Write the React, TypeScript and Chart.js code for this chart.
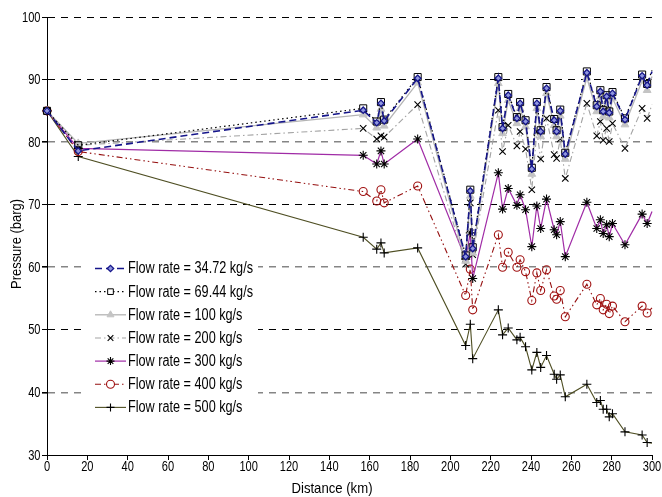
import React, { useEffect, useRef } from "react";
import { Chart, registerables } from "chart.js";

Chart.register(...registerables);

// ---- data ----
const distanceKm = [
  0, 15.5, 156.8, 163.5, 165.6, 167.2, 183.8, 207.6, 209.9, 211.1, 223.8, 225.9, 228.7, 233, 234.6,
  237.3, 240.4, 242.9, 244.8, 247.7, 251.5, 252.7, 254.5, 257.0, 267.7, 272.6, 274.4, 275.8, 277.5,
  278.8, 280.4, 286.6, 295.1, 297.6, 300,
];
const flow3472 = [
  85, 78.6, 85.1, 83.1, 86.2, 83.4, 90.2, 61.7, 72.2, 63.0, 90.2, 82.2, 87.5, 83.8, 86.2, 83.3, 75.7,
  86.2, 81.7, 88.6, 83.5, 81.7, 85.0, 78.1, 91.1, 85.7, 88.1, 84.9, 87.3, 84.7, 87.8, 83.6, 90.6, 89.1, 91.3,
];
const flow6944 = [
  85, 79.5, 85.4, 83.3, 86.4, 83.6, 90.4, 61.9, 72.4, 63.2, 90.4, 82.4, 87.7, 84.0, 86.4, 83.5, 75.9,
  86.4, 81.9, 88.8, 83.7, 81.9, 85.2, 78.3, 91.3, 85.9, 88.3, 85.1, 87.5, 84.9, 88.0, 83.8, 90.8, 89.3, 91.5,
];
const flow100 = [
  85, 79.8, 84.4, 82.3, 85.3, 82.6, 89.5, 61.0, 71.4, 62.3, 89.4, 81.4, 86.7, 83.0, 85.4, 82.5, 74.9,
  85.4, 80.9, 87.8, 82.7, 80.9, 84.2, 77.3, 90.3, 84.9, 87.3, 84.1, 86.5, 83.9, 87.0, 82.8, 89.8, 88.3, 90.5,
];
const flow200 = [
  85, 79.5, 82.2, 80.5, 81.0, 80.8, 86.0, 60.5, 70.3, 62.0, 85.1, 78.5, 82.7, 79.4, 81.7, 78.9, 72.4,
  81.7, 77.3, 83.8, 78.0, 77.4, 80.5, 74.2, 86.2, 81.0, 83.3, 80.3, 82.2, 80.1, 83.0, 79.0, 85.4, 83.8, 86.0,
];
const flow300 = [
  85, 79.0, 77.9, 76.5, 78.6, 76.5, 80.5, 61.3, 65.5, 58.2, 75.1, 69.3, 72.6, 69.9, 71.6, 69.2, 63.3,
  69.8, 66.2, 70.9, 66.0, 65.2, 67.3, 61.7, 70.4, 66.2, 67.6, 65.4, 66.8, 64.9, 67.0, 63.6, 68.5, 67.0, 68.9,
];
const flow400 = [
  85, 78.5, 72.1, 70.6, 72.4, 70.3, 73.0, 55.5, 59.7, 53.2, 65.2, 60.0, 62.4, 60.0, 61.2, 59.3, 54.7,
  59.1, 56.3, 59.6, 55.4, 54.9, 56.3, 52.1, 57.3, 54.0, 55.0, 53.2, 54.1, 52.6, 53.8, 51.3, 53.8, 52.7, 53.5,
];
const flow500 = [
  85, 77.7, 64.8, 62.9, 63.9, 62.3, 63.1, 47.5, 50.9, 45.4, 53.2, 49.2, 50.3, 48.4, 48.8, 47.3, 43.6,
  46.4, 44.0, 45.9, 42.9, 42.1, 42.8, 39.3, 41.3, 38.4, 38.7, 37.3, 37.3, 36.1, 36.6, 33.7, 33.2, 32.0, 31.9,
];
const seriesLabels = [
  "Flow rate = 34.72 kg/s",
  "Flow rate = 69.44 kg/s",
  "Flow rate = 100 kg/s",
  "Flow rate = 200 kg/s",
  "Flow rate = 300 kg/s",
  "Flow rate = 400 kg/s",
  "Flow rate = 500 kg/s",
];
const xAxisTitle = "Distance (km)";
const yAxisTitle = "Pressure (barg)";
const xMin = 0, xMax = 300, xStep = 20;
const yMin = 30, yMax = 100, yStep = 10;
const grayGridValues = [80, 60, 40];

const FONT = '"Liberation Sans", Arial, sans-serif';

function drawMarker(ctx: CanvasRenderingContext2D, style: string, x: number, y: number, r: number, fill: string, stroke: string, lw: number) {
  ctx.save();
  ctx.setLineDash([]);
  ctx.lineWidth = lw;
  ctx.strokeStyle = stroke;
  ctx.fillStyle = fill;
  ctx.beginPath();
  const s = Math.SQRT1_2 * r;
  switch (style) {
    case "rectRot":
      ctx.moveTo(x - r, y); ctx.lineTo(x, y - r); ctx.lineTo(x + r, y); ctx.lineTo(x, y + r); ctx.closePath();
      ctx.fill(); ctx.stroke(); break;
    case "rect":
      ctx.rect(x - s, y - s, 2 * s, 2 * s); ctx.fill(); ctx.stroke(); break;
    case "triangle": {
      const h = r * 1.5;
      ctx.moveTo(x - r * 0.87, y + h / 3); ctx.lineTo(x, y - (2 * h) / 3); ctx.lineTo(x + r * 0.87, y + h / 3); ctx.closePath();
      ctx.fill(); ctx.stroke(); break;
    }
    case "circle":
      ctx.arc(x, y, r, 0, Math.PI * 2); ctx.fill(); ctx.stroke(); break;
    case "crossRot":
      ctx.moveTo(x - s, y - s); ctx.lineTo(x + s, y + s); ctx.moveTo(x - s, y + s); ctx.lineTo(x + s, y - s); ctx.stroke(); break;
    case "star":
      ctx.moveTo(x - s, y - s); ctx.lineTo(x + s, y + s); ctx.moveTo(x - s, y + s); ctx.lineTo(x + s, y - s);
      ctx.moveTo(x, y - r); ctx.lineTo(x, y + r); ctx.moveTo(x - r, y); ctx.lineTo(x + r, y); ctx.stroke(); break;
    case "cross":
      ctx.moveTo(x, y - r); ctx.lineTo(x, y + r); ctx.moveTo(x - r, y); ctx.lineTo(x + r, y); ctx.stroke(); break;
  }
  ctx.restore();
}

// draw horizontally condensed text
function narrowText(ctx: CanvasRenderingContext2D, text: string, x: number, y: number, align: CanvasTextAlign, sx: number) {
  ctx.save();
  ctx.translate(x, y);
  ctx.scale(sx, 1);
  ctx.textAlign = align;
  ctx.textBaseline = "middle";
  ctx.fillText(text, 0, 0);
  ctx.restore();
}

export default function App() {
  const ref = useRef<HTMLCanvasElement>(null);
  useEffect(() => {
    const canvas = ref.current!;
    const last = distanceKm.length - 1;
    const mk = (vals: number[]) => distanceKm.map((x, i) => ({ x, y: vals[i] }));
    const rad = (r: number) => (c: any) => (c.dataIndex === last ? 0 : r);

    const styles = [
      { vals: flow3472, color: "#15158a", dash: [7, 4], width: 1.6, ps: "rectRot", r: 3.2, pb: "#8f96dd", pc: "#15158a", pw: 1.3 },
      { vals: flow6944, color: "#000000", dash: [1.5, 3], width: 1.2, ps: "rect", r: 5, pb: "rgba(0,0,0,0)", pc: "#000", pw: 1 },
      { vals: flow100, color: "#b4b4b4", dash: [], width: 1.3, ps: "triangle", r: 4.5, pb: "#c4c4c4", pc: "#c4c4c4", pw: 1 },
      { vals: flow200, color: "#a3a3a3", dash: [6, 3, 1.5, 3], width: 1.1, ps: "crossRot", r: 4.5, pb: "rgba(0,0,0,0)", pc: "#000", pw: 1.1 },
      { vals: flow300, color: "#a02ca6", dash: [], width: 1.2, ps: "star", r: 4.5, pb: "rgba(0,0,0,0)", pc: "#000", pw: 1.1 },
      { vals: flow400, color: "#950f0f", dash: [6, 3, 1.5, 3, 1.5, 3], width: 1.1, ps: "circle", r: 4, pb: "rgba(0,0,0,0)", pc: "#a01010", pw: 1.1 },
      { vals: flow500, color: "#4e4e22", dash: [], width: 1.1, ps: "cross", r: 4.5, pb: "rgba(0,0,0,0)", pc: "#000", pw: 1.1 },
    ];

    const datasets = styles.map((s, i) => ({
      label: seriesLabels[i],
      data: mk(s.vals),
      borderColor: s.color,
      borderDash: s.dash,
      borderWidth: s.width,
      pointStyle: s.ps,
      pointRadius: rad(s.r),
      pointBackgroundColor: s.pb,
      pointBorderColor: s.pc,
      pointBorderWidth: s.pw,
      tension: 0,
      clip: false as any,
      _r: s.r,
    }));

    const labelPlugin = {
      id: "boxLegend",
      afterDatasetsDraw(chart: any) {
        const ctx: CanvasRenderingContext2D = chart.ctx;
        ctx.save();
        ctx.fillStyle = "#fff";
        ctx.fillRect(86, 254, 172, 166);
        ctx.font = `16px ${FONT}`;
        const sx = 125 / ctx.measureText(seriesLabels[0]).width;
        chart.data.datasets.forEach((ds: any, i: number) => {
          const y = 268.5 + i * 23.15;
          ctx.save();
          ctx.beginPath();
          ctx.setLineDash(ds.borderDash || []);
          ctx.strokeStyle = ds.borderColor;
          ctx.lineWidth = ds.borderWidth;
          ctx.moveTo(95, y);
          ctx.lineTo(126, y);
          ctx.stroke();
          ctx.restore();
          const fill = ds.pointBackgroundColor === "rgba(0,0,0,0)" ? "#fff" : ds.pointBackgroundColor;
          drawMarker(ctx, ds.pointStyle, 110.5, y, Math.min(ds._r, 4), fill, ds.pointBorderColor, ds.pointBorderWidth);
          ctx.fillStyle = "#000";
          narrowText(ctx, ds.label, 128, y + 0.5, "left", sx);
        });
        ctx.restore();
      },
      afterDraw(chart: any) {
        const ctx: CanvasRenderingContext2D = chart.ctx;
        ctx.save();
        ctx.fillStyle = "#000";
        ctx.font = `15px ${FONT}`;
        // tick labels
        const tsx = 18.5 / ctx.measureText("100").width;
        const xs = chart.scales.x, ys = chart.scales.y;
        xs.ticks.forEach((t: any) => {
          narrowText(ctx, String(t.value), xs.getPixelForValue(t.value), 467, "center", tsx);
        });
        ys.ticks.forEach((t: any) => {
          narrowText(ctx, String(t.value), 40.5, ys.getPixelForValue(t.value) + 0.5, "right", tsx);
        });
        // axis titles
        ctx.font = `15px ${FONT}`;
        const xsx = 81 / ctx.measureText(xAxisTitle).width;
        narrowText(ctx, xAxisTitle, 332, 489, "center", xsx);
        const ysx = 90 / ctx.measureText(yAxisTitle).width;
        ctx.save();
        ctx.translate(17, 244);
        ctx.rotate(-Math.PI / 2);
        narrowText(ctx, yAxisTitle, 0, 0, "center", ysx);
        ctx.restore();
        ctx.restore();
      },
    };

    const chart = new Chart(canvas, {
      type: "line",
      data: { datasets: datasets as any },
      plugins: [labelPlugin as any],
      options: {
        animation: false,
        responsive: false,
        devicePixelRatio: 1,
        layout: { padding: { left: 0, right: 10, top: 17, bottom: 0 } },
        plugins: { legend: { display: false }, tooltip: { enabled: false } },
        scales: {
          x: {
            type: "linear",
            min: xMin,
            max: xMax,
            ticks: { stepSize: xStep, color: "rgba(0,0,0,0)", font: { family: FONT, size: 13 }, padding: 2, maxRotation: 0 },
            grid: { drawOnChartArea: false, drawTicks: true, tickLength: 5, color: "#000", tickColor: "#000", tickBorderDash: [] } as any,
            border: { display: true, color: "#000", width: 1 },
            afterFit: (s: any) => { s.height = 42; s.paddingLeft = 0; s.paddingRight = 0; },
          },
          y: {
            type: "linear",
            min: yMin,
            max: yMax,
            ticks: { stepSize: yStep, color: "rgba(0,0,0,0)", font: { family: FONT, size: 13 }, padding: 3 },
            grid: {
              drawOnChartArea: true,
              drawTicks: true,
              tickLength: 5,
              tickColor: "#000",
              tickBorderDash: [],
              color: (c: any) => {
                const v = c.tick ? c.tick.value : null;
                if (v === yMin) return "rgba(0,0,0,0)";
                return grayGridValues.includes(v) ? "#858585" : "#000";
              },
              lineWidth: (c: any) => {
                const v = c.tick ? c.tick.value : null;
                return grayGridValues.includes(v) ? 1.6 : 1;
              },
            } as any,
            border: { display: true, color: "#000", width: 1, dash: [7, 6] },
            afterFit: (s: any) => { s.width = 47; s.paddingTop = 0; s.paddingBottom = 0; },
          },
        },
      },
    });
    return () => chart.destroy();
  }, []);

  return (
    <div style={{ position: "fixed", left: 0, top: 0, width: 662, height: 497, background: "#fff" }}>
      <canvas ref={ref} width={662} height={497} style={{ display: "block", width: 662, height: 497 }} />
    </div>
  );
}
